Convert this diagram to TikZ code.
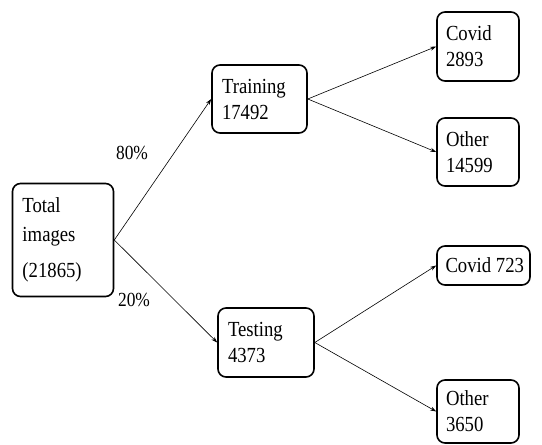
\documentclass[tikz,border=0pt]{standalone}
\usepackage{fontspec}
\setmainfont{Liberation Serif}[FakeStretch=0.87]
\usetikzlibrary{arrows.meta}
\begin{document}
\begin{tikzpicture}[x=1pt,y=-1pt,
  box/.style={draw=black,line width=1.6pt,rounded corners=8pt,align=left,
    inner xsep=10pt,inner ysep=0pt,font=\fontsize{21.5}{26}\selectfont},
  conn/.style={draw=black,line width=0.6pt,-{Stealth[length=6pt,width=4pt]}},
  pct/.style={font=\fontsize{20}{22}\selectfont,inner sep=0pt}]
\useasboundingbox (0,0) rectangle (542,445);
\node[box,minimum width=101pt,minimum height=113pt,text width=81pt,font=\fontsize{21.5}{29}\selectfont] (total) at (63,240) {Total\\images\\[7pt](21865)};
\node[box,minimum width=95pt,minimum height=68pt,text width=75pt] (train) at (259.5,99) {Training\\17492};
\node[box,minimum width=96pt,minimum height=69pt,text width=76pt] (test) at (266,342.5) {Testing\\4373};
\node[box,minimum width=82pt,minimum height=69pt,text width=64pt,inner xsep=9pt] (c1) at (478,46.5) {Covid\\2893};
\node[box,minimum width=82pt,minimum height=68pt,text width=64pt,inner xsep=9pt] (o1) at (478,152) {Other\\14599};
\node[box,minimum width=93pt,minimum height=39pt,inner xsep=5.5pt] (c2) at (483.5,265.5) {\makebox[82pt][l]{\hspace*{3pt}Covid 723}};
\node[box,minimum width=82pt,minimum height=63pt,text width=64pt,inner xsep=9pt] (o2) at (478,411.5) {Other\\3650};
\node[pct] (p80) at (132,153) {80\%};
\node[pct] (p20) at (134,300) {20\%};
\draw[conn] (total.east) -- (train.west);
\draw[conn] (total.east) -- (test.west);
\draw[conn] (train.east) -- (c1.west);
\draw[conn] (train.east) -- (o1.west);
\draw[conn] (test.east) -- (c2.west);
\draw[conn] (test.east) -- (o2.west);
\end{tikzpicture}
\end{document}
